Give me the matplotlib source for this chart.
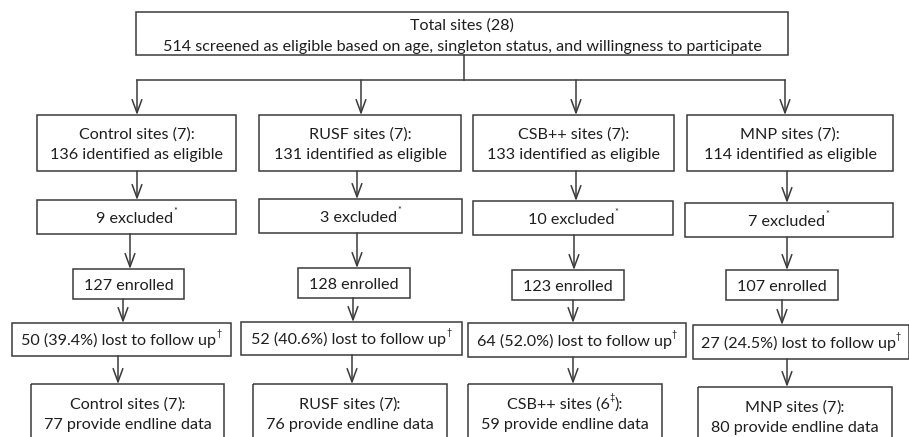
import matplotlib
matplotlib.use("Agg")
import matplotlib.pyplot as plt
from matplotlib.patches import Rectangle

# data
arms = ['Control', 'RUSF', 'CSB++', 'MNP']
sites = ['7', '7', '7', '7']
eligible = [136, 131, 133, 114]
excluded = [9, 3, 10, 7]
enrolled = [127, 128, 123, 107]
lost = [50, 52, 64, 27]
lost_pct = [39.4, 40.6, 52.0, 24.5]
final_sites = ['7', '7', '6', '7']
final_mark = ['', '', '‡', '']
endline = [77, 76, 59, 80]
total_sites = 28
screened = 514

# layout (pixels)
W, H = 909, 437
top_box = (136, 788, 12, 55)
lvl_x = [
    [(37, 236), (259, 461), (473, 674), (687, 893)],
    [(37, 236), (259, 462), (473, 673), (685, 893)],
    [(73, 184), (298, 410), (512, 624), (726, 838)],
    [(12, 231), (241, 462), (468, 686), (693, 909)],
    [(31, 224), (253, 447), (468, 662), (698, 892)],
]
lvl_y = [
    [(115, 171)] * 4,
    [(200, 234), (199, 233), (201, 235), (203, 237)],
    [(269, 299), (268, 298), (270, 300), (270, 300)],
    [(323, 356), (322, 355), (323, 357), (325, 359)],
    [(384, 460), (384, 460), (384, 460), (387, 460)],
]
arrow_x = [
    [137, 361, 576, 785],
    [137, 357, 576, 787],
    [130, 357, 574, 787],
    [123, 353, 573, 782],
    [118, 352, 573, 787],
]
split_y = 80

FS = 11.6
LC = '#3a3a3a'
TC = '#1e1e1e'
LW = 1.1
plt.rcParams['font.family'] = ['Lato', 'DejaVu Sans']

fig = plt.figure(figsize=(W / 100, H / 100), dpi=100)
ax = fig.add_axes([0, 0, 1, 1])
ax.set_xlim(0, W)
ax.set_ylim(H, 0)
ax.axis('off')
renderer = fig.canvas.get_renderer()


def box(x0, x1, y0, y1):
    ax.add_patch(Rectangle((x0, y0), x1 - x0, y1 - y0, fill=False,
                           edgecolor=LC, linewidth=LW, clip_on=False))


def arrow(x, y0, y1):
    ax.annotate('', xy=(x, y1), xytext=(x, y0),
                arrowprops=dict(arrowstyle='->,head_length=0.95,head_width=0.35',
                                color=LC, lw=LW, shrinkA=0, shrinkB=0))


def put(parts, cx, cy):
    fs_px = FS * 100 / 72
    base = cy + 0.36 * fs_px
    arts = []
    total = 0
    for s, sup in parts:
        size = FS * 0.55 if sup else FS
        y = base - 0.55 * fs_px if sup else base
        t = ax.text(0, y, s, fontsize=size, color=TC, ha='left', va='baseline')
        w = t.get_window_extent(renderer).width
        arts.append((t, w))
        total += w
    x = cx - total / 2
    for t, w in arts:
        t.set_x(x)
        x += w


# top box
box(*top_box)
cx = (top_box[0] + top_box[1]) / 2
put([(f'Total sites ({total_sites})', False)], cx, 24)
put([(f'{screened} screened as eligible based on age, singleton status, '
      'and willingness to participate', False)], cx, 45)
ax.plot([464, 464], [top_box[3], split_y], color=LC, lw=LW)
ax.plot([arrow_x[0][0], arrow_x[0][-1]], [split_y, split_y], color=LC, lw=LW)

for i, arm in enumerate(arms):
    # arrows
    arrow(arrow_x[0][i], split_y, lvl_y[0][i][0])
    for k in range(1, 5):
        arrow(arrow_x[k][i], lvl_y[k - 1][i][1], lvl_y[k][i][0])
    for k in range(5):
        (x0, x1), (y0, y1) = lvl_x[k][i], lvl_y[k][i]
        box(x0, x1, y0, y1)
    c = [(a + b) / 2 for a, b in (lvl_x[k][i] for k in range(5))]
    put([(f'{arm} sites ({sites[i]}):', False)], c[0], 133)
    put([(f'{eligible[i]} identified as eligible', False)], c[0], 153)
    put([(f'{excluded[i]} excluded', False), ('*', True)], c[1],
        sum(lvl_y[1][i]) / 2)
    put([(f'{enrolled[i]} enrolled', False)], c[2], sum(lvl_y[2][i]) / 2)
    put([(f'{lost[i]} ({lost_pct[i]:.1f}%) lost to follow up', False), ('†', True)],
        c[3], sum(lvl_y[3][i]) / 2)
    parts = [(f'{arm} sites ({final_sites[i]}', False)]
    if final_mark[i]:
        parts.append((final_mark[i], True))
    parts.append(('):', False))
    put(parts, c[4], lvl_y[4][i][0] + 19)
    put([(f'{endline[i]} provide endline data', False)], c[4], lvl_y[4][i][0] + 39)

fig.savefig('out.png', dpi=100)
